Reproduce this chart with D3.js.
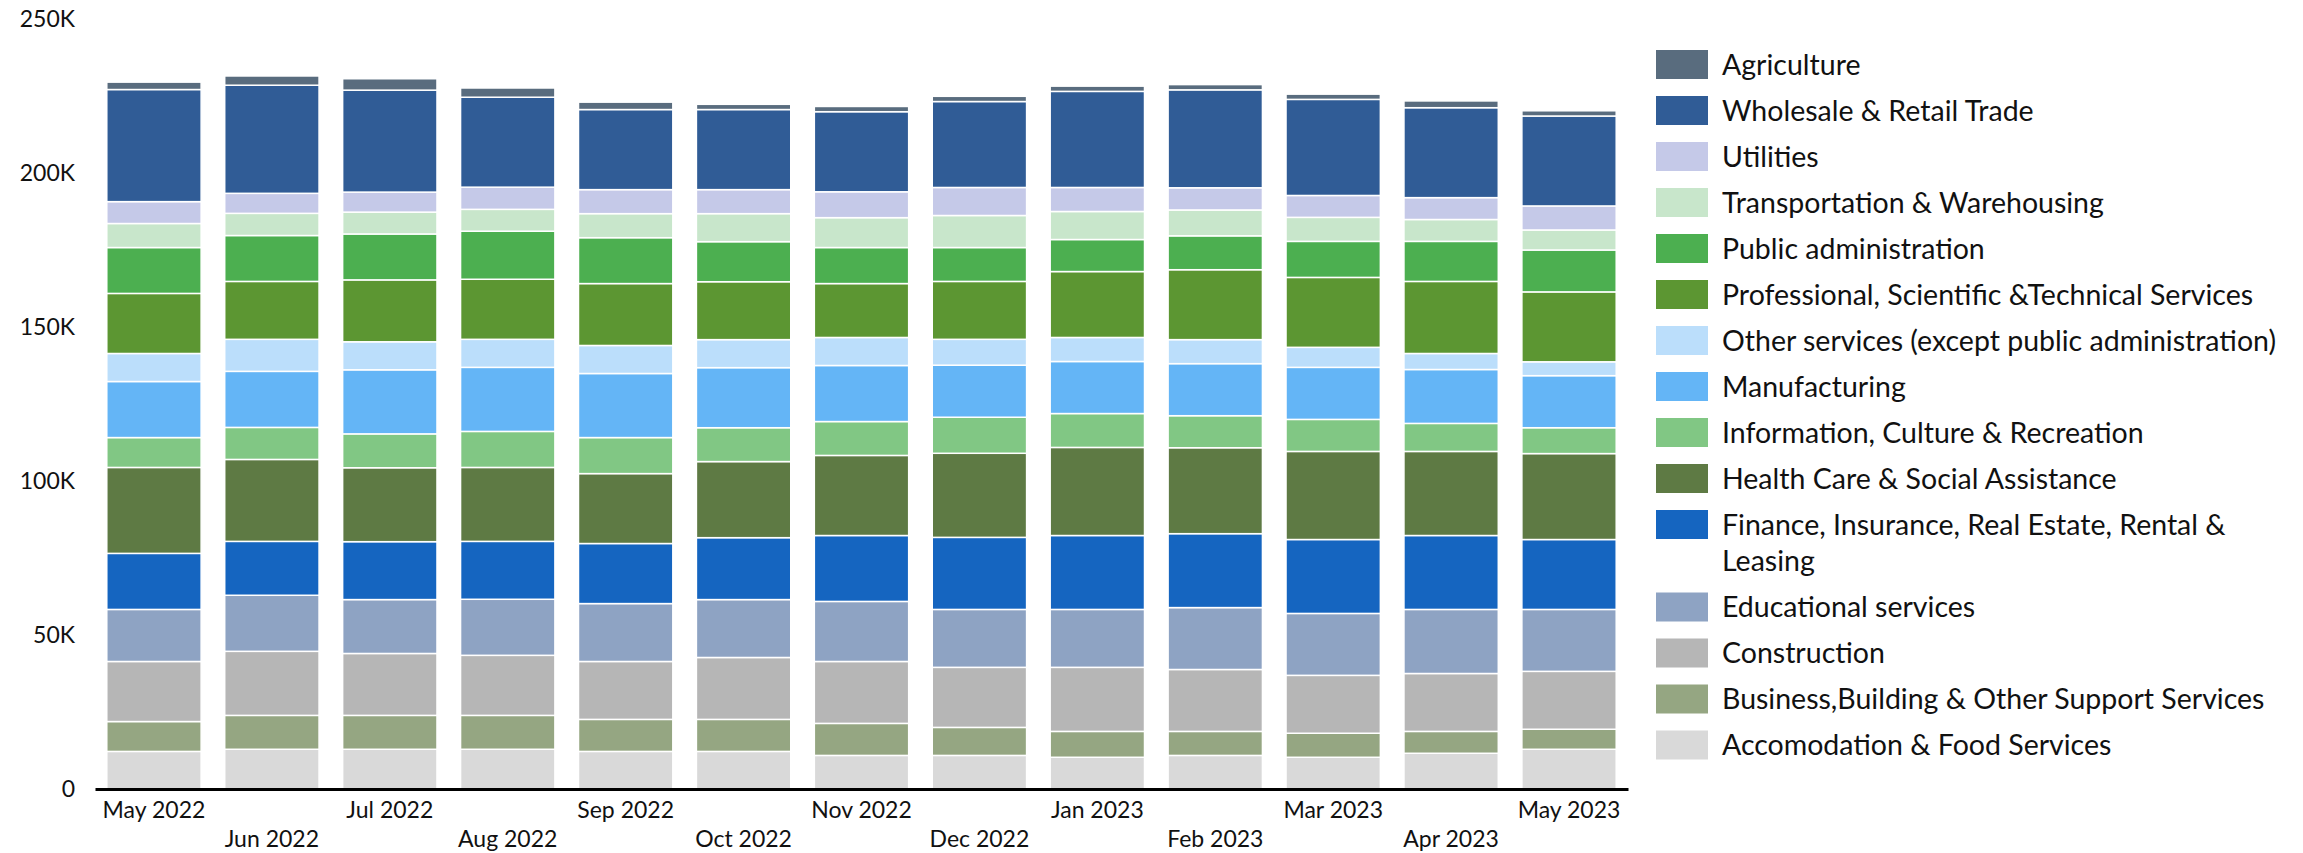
<!DOCTYPE html>
<html><head><meta charset="utf-8">
<script src="https://cdn.jsdelivr.net/npm/d3@7"></script>
<style>
body{margin:0;background:#fff;}
text{font-family:Lato, "Open Sans", sans-serif;fill:#111;}
</style>
</head><body>
<svg id="chart" width="2303" height="853"></svg>
<script>
// ---- data (values in thousands) ----
const months = ["May 2022","Jun 2022","Jul 2022","Aug 2022","Sep 2022","Oct 2022","Nov 2022","Dec 2022","Jan 2023","Feb 2023","Mar 2023","Apr 2023","May 2023"];
const yTickValues = [0, 50, 100, 150, 200, 250];

const accommodation  = [12.2, 12.9, 12.9, 12.9, 12.2, 12.2, 10.9, 10.9, 10.3, 10.9, 10.3, 11.6, 12.9];
const business       = [9.7, 11.0, 11.0, 11.0, 10.4, 10.4, 10.4, 9.1, 8.4, 7.8, 7.8, 7.1, 6.5];
const construction   = [19.5, 20.8, 20.1, 19.5, 18.8, 20.1, 20.1, 19.5, 20.8, 20.1, 18.8, 18.8, 18.8];
const educational    = [16.9, 18.2, 17.5, 18.2, 18.8, 18.8, 19.5, 18.8, 18.8, 20.1, 20.1, 20.8, 20.1];
const finance        = [18.2, 17.5, 18.8, 18.8, 19.5, 20.1, 21.4, 23.4, 24.0, 24.0, 24.0, 24.0, 22.7];
const health         = [27.9, 26.6, 24.0, 24.0, 22.7, 24.7, 26.0, 27.3, 28.6, 27.9, 28.6, 27.3, 27.9];
const information    = [9.7, 10.4, 11.0, 11.7, 11.7, 11.0, 11.0, 11.7, 11.0, 10.4, 10.4, 9.1, 8.4];
const manufacturing  = [18.2, 18.2, 20.8, 20.8, 20.8, 19.5, 18.2, 16.9, 16.9, 16.9, 16.9, 17.5, 16.9];
const otherServices  = [9.1, 10.4, 9.1, 9.1, 9.1, 9.1, 9.1, 8.4, 7.8, 7.8, 6.5, 5.2, 4.5];
const professional   = [19.5, 18.8, 20.1, 19.5, 20.1, 18.8, 17.5, 18.8, 21.4, 22.7, 22.7, 23.4, 22.7];
const publicAdmin    = [14.9, 14.9, 14.9, 15.6, 14.9, 13.0, 11.7, 11.0, 10.4, 11.0, 11.7, 13.0, 13.6];
const transportation = [7.8, 7.2, 7.1, 7.1, 7.8, 9.1, 9.7, 10.4, 9.1, 8.4, 7.8, 7.1, 6.5];
const utilities      = [7.1, 6.5, 6.5, 7.2, 7.8, 7.8, 8.4, 9.1, 7.8, 7.2, 7.1, 7.1, 7.8];
const wholesale      = [36.4, 35.1, 33.1, 29.2, 26.0, 26.0, 26.0, 27.9, 31.2, 31.8, 31.2, 29.2, 29.2];
const agriculture    = [2.4, 3.0, 3.7, 3.0, 2.4, 1.7, 1.7, 1.7, 1.7, 1.7, 1.7, 2.2, 1.7];

// stacking order bottom -> top
const seriesNames = [
  "Accomodation & Food Services",
  "Business,Building & Other Support Services",
  "Construction",
  "Educational services",
  "Finance, Insurance, Real Estate, Rental & Leasing",
  "Health Care & Social Assistance",
  "Information, Culture & Recreation",
  "Manufacturing",
  "Other services (except public administration)",
  "Professional, Scientific &Technical Services",
  "Public administration",
  "Transportation & Warehousing",
  "Utilities",
  "Wholesale & Retail Trade",
  "Agriculture"
];
const seriesValues = [accommodation, business, construction, educational, finance, health,
  information, manufacturing, otherServices, professional, publicAdmin, transportation,
  utilities, wholesale, agriculture];
const seriesColors = ["#d9d9d9","#95a682","#b6b6b6","#8ea3c3","#1565c0","#5e7a44",
  "#81c784","#64b5f6","#bbdefb","#5c9632","#4caf50","#c8e6cb","#c5c9e8","#305c96","#596c7e"];

// ---- build table ----
const rows = months.map((m, i) => {
  const r = {month: m};
  seriesNames.forEach((s, j) => r[s] = seriesValues[j][i]);
  return r;
});

const svg = d3.select("#chart");
const x = d3.scaleBand().domain(months).range([95, 1628]).paddingInner(0.2).paddingOuter(0.1);
const y = d3.scaleLinear().domain([0, 250]).range([789, 19]);
const color = d3.scaleOrdinal().domain(seriesNames).range(seriesColors);

const stacked = d3.stack().keys(seriesNames)(rows);

svg.append("g").selectAll("g").data(stacked).join("g")
  .attr("fill", d => color(d.key))
  .selectAll("rect").data(d => d).join("rect")
  .attr("x", d => x(d.data.month))
  .attr("width", x.bandwidth())
  .attr("y", d => y(d[1]))
  .attr("height", d => y(d[0]) - y(d[1]))
  .attr("stroke", "#fff")
  .attr("stroke-width", 1.5);

// y axis (labels only)
const yAxis = svg.append("g").attr("transform", "translate(75,0)")
  .call(d3.axisLeft(y).tickValues(yTickValues).tickSize(0).tickPadding(0)
    .tickFormat(d => d === 0 ? "0" : d + "K"));
yAxis.select(".domain").remove();
yAxis.selectAll("text").style("font-family", "Lato").style("font-size", "23px").attr("fill", "#111");

// x axis
const xAxis = svg.append("g").attr("transform", "translate(0,789)")
  .call(d3.axisBottom(x).tickSize(0).tickPadding(0).tickSizeOuter(0));
xAxis.select(".domain").attr("stroke", "#000").attr("stroke-width", 3);
xAxis.selectAll("text").style("font-family", "Lato").style("font-size", "23px").attr("fill", "#111")
  .attr("y", (d, i) => i % 2 === 0 ? 13 : 42);

// legend (top -> bottom is reverse of stack)
const legendNames = seriesNames.slice().reverse();
const lg = svg.append("g");
const fs = 28.5, step = 46, lineH = 36.5, maxW = 572;
let cy = 64.5;
legendNames.forEach(name => {
  const g = lg.append("g");
  g.append("rect").attr("x", 1656).attr("y", cy - 14.5).attr("width", 52).attr("height", 29)
    .attr("fill", color(name));
  const t = g.append("text").attr("x", 1722).attr("y", cy).attr("dy", "0.36em")
    .style("font-size", fs + "px");
  // wrap
  const words = name.split(" ");
  let line = [], lines = 0;
  let tspan = t.append("tspan").attr("x", 1722);
  words.forEach(w => {
    line.push(w);
    tspan.text(line.join(" "));
    if (tspan.node().getComputedTextLength() > maxW && line.length > 1) {
      line.pop();
      tspan.text(line.join(" "));
      line = [w];
      lines++;
      tspan = t.append("tspan").attr("x", 1722).attr("dy", lineH).text(w);
    }
  });
  cy += step + lines * lineH;
});
</script>
</body></html>
